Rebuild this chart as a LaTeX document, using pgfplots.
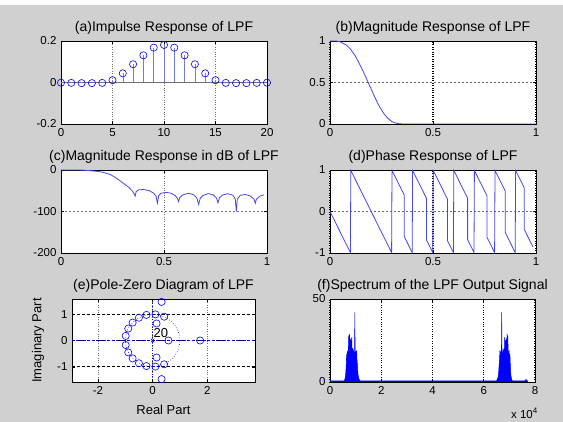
\documentclass[border=0pt]{standalone}
\usepackage{fontspec}
\setmainfont{Liberation Sans}
\usepackage{pgfplots}
\pgfplotsset{compat=1.18}
\definecolor{bg}{RGB}{208,208,208}
\definecolor{mblue}{RGB}{0,0,255}
\definecolor{lblue}{RGB}{70,70,235}
\definecolor{sblue}{RGB}{120,120,225}
\definecolor{ggray}{RGB}{110,110,110}
\tikzset{
  gdot/.style={ggray, dotted, line width=0.6pt},
  gdash/.style={ggray, line width=0.5pt, dash pattern=on 2pt off 2pt},
  kdot/.style={black, dotted, line width=1.1pt},
  kdash/.style={black, line width=0.9pt, dash pattern=on 3pt off 2pt},
}
\pgfplotsset{
  mstyle/.style={
    scale only axis,
    axis background/.style={fill=white},
    axis line style={black, line width=0.6pt},
    tick align=inside,
    major tick length=3pt,
    tick style={black, line width=0.5pt},
    ticklabel style={font=\fontsize{11.5}{13}\selectfont},
    /pgf/number format/assume math mode=true,
    title style={font=\fontsize{14}{16}\selectfont, at={(0.5,1)}, anchor=base, yshift=3pt},
    label style={font=\fontsize{13}{15}\selectfont},
    xticklabel style={yshift=-1pt},
    yticklabel style={xshift=-1pt},
    clip=true,
  },
}
\begin{document}
\begin{tikzpicture}
\useasboundingbox (0pt,0pt) rectangle (563pt,422pt);
\fill[bg] (0pt,0pt) rectangle (563pt,422pt);
\fill[white!94!bg] (0pt,417pt) rectangle (563pt,422pt);

% (a)
\begin{axis}[mstyle, at={(61pt,298pt)}, anchor=south west, width=206pt, height=83pt,
  xmin=0, xmax=20, ymin=-0.2, ymax=0.2,
  xtick={0,5,10,15,20}, ytick={-0.2,0,0.2},
  xmajorgrids, major x grid style={gdot},
  title={(a)Impulse Response of LPF}]
\addplot[ggray, line width=0.5pt] coordinates {(0,0)(20,0)};
\addplot[ycomb, sblue, line width=0.6pt, mark=o, mark size=3.6pt, mark options={mblue, solid, line width=0.6pt}] coordinates {
(0,-0.001)(1,-0.002)(2,-0.003)(3,-0.003)(4,-0.002)(5,0.011)(6,0.044)(7,0.088)(8,0.131)(9,0.168)(10,0.181)
(11,0.168)(12,0.131)(13,0.088)(14,0.044)(15,0.011)(16,-0.002)(17,-0.003)(18,-0.003)(19,-0.002)(20,-0.001)};
\end{axis}

% (b)
\begin{axis}[mstyle, at={(330pt,298pt)}, anchor=south west, width=206pt, height=83pt,
  xmin=0, xmax=1, ymin=0, ymax=1,
  xtick={0,0.5,1}, ytick={0,0.5,1},
  xmajorgrids, major x grid style={kdot},
  ymajorgrids, major y grid style={gdash},
  title={(b)Magnitude Response of LPF}]
\addplot[lblue, line width=0.8pt] coordinates {
(0,1)(0.03,1.0)(0.05,0.99)(0.08,0.95)(0.1,0.90)(0.12,0.83)(0.14,0.74)(0.16,0.64)(0.18,0.53)(0.2,0.42)
(0.22,0.31)(0.24,0.21)(0.26,0.13)(0.28,0.07)(0.30,0.03)(0.32,0.01)(0.34,0.002)(0.36,0)(1,0)};
\end{axis}

% (c)
\begin{axis}[mstyle, at={(61pt,169pt)}, anchor=south west, width=206pt, height=83pt,
  xmin=0, xmax=1, ymin=-200, ymax=0,
  xtick={0,0.5,1}, ytick={-200,-100,0},
  xmajorgrids, major x grid style={gdot},
  ymajorgrids, major y grid style={gdash},
  title={(c)Magnitude Response in dB of LPF}]
\addplot[lblue, line width=0.8pt] coordinates {
(0,0)(0.05,0)(0.1,-0.3)(0.14,-1.5)(0.17,-3)(0.2,-5)(0.24,-11)(0.27,-20)(0.3,-31)(0.33,-42)(0.345,-50)(0.355,-57)(0.36,-63)
(0.365,-52)(0.375,-48)(0.40,-47)(0.43,-50)(0.45,-56)(0.462,-64)(0.468,-80)(0.474,-62)(0.485,-56)
(0.51,-54)(0.535,-56)(0.555,-62)(0.565,-68)(0.57,-76)(0.576,-67)(0.59,-60)(0.62,-56)(0.645,-60)
(0.66,-68)(0.668,-83)(0.676,-68)(0.69,-61)(0.715,-57)(0.74,-60)(0.755,-68)(0.762,-79)(0.769,-67)
(0.785,-60)(0.81,-57)(0.835,-61)(0.846,-70)(0.851,-100)(0.856,-70)(0.87,-61)(0.895,-59)(0.92,-63)
(0.937,-70)(0.943,-80)(0.949,-70)(0.965,-63)(0.985,-60)};
\end{axis}

% (d)
\begin{axis}[mstyle, at={(330pt,169pt)}, anchor=south west, width=206pt, height=83pt,
  xmin=0, xmax=1, ymin=-1, ymax=1,
  xtick={0,0.5,1}, ytick={-1,0,1},
  xmajorgrids, major x grid style={kdot},
  ymajorgrids, major y grid style={gdash},
  title={(d)Phase Response of LPF}]
\addplot[lblue, line width=0.8pt] coordinates {
(0,0)(0.099,-0.99)(0.101,0.99)(0.299,-0.99)(0.301,0.99)(0.36,0.40)(0.36,-0.60)(0.399,-0.99)(0.401,0.99)
(0.468,0.32)(0.468,-0.68)(0.499,-0.99)(0.501,0.99)(0.57,0.30)(0.57,-0.70)(0.599,-0.99)(0.601,0.99)
(0.668,0.32)(0.668,-0.68)(0.699,-0.99)(0.701,0.99)(0.762,0.38)(0.762,-0.62)(0.799,-0.99)(0.801,0.99)
(0.851,0.49)(0.851,-0.51)(0.899,-0.99)(0.901,0.99)(0.943,0.57)(0.943,-0.43)(0.985,-0.85)};
\end{axis}

% (e)
\begin{axis}[mstyle, at={(72pt,40pt)}, anchor=south west, width=183pt, height=83pt,
  xmin=-2.95, xmax=3.75, ymin=-1.58, ymax=1.58,
  xtick={-2,0,2}, ytick={-1,0,1},
  xmajorgrids, major x grid style={gdot},
  ymajorgrids, major y grid style={kdash},
  title={(e)Pole-Zero Diagram of LPF},
  xlabel={Real Part}, ylabel={Imaginary Part},
  xlabel style={at={(axis description cs:0.5,0)}, anchor=center, yshift=-28pt},
  ylabel style={at={([xshift=-34pt]axis description cs:0,0.5)}, anchor=center}]
\addplot[mblue, line width=0.6pt, dash pattern=on 2pt off 2pt] coordinates {(-2.95,0)(3.75,0)};
\addplot[mblue, line width=0.6pt, dotted] coordinates {(0,-1.58)(0,1.58)};
\draw[mblue, dotted, line width=0.6pt] (axis cs:0,0) ellipse [x radius=1, y radius=1];
\addplot[only marks, mark=o, mark size=3.6pt, mark options={mblue, line width=0.6pt}] coordinates {
(0.423,0.906)(0.105,0.995)(-0.225,0.974)(-0.5,0.866)(-0.731,0.682)(-0.891,0.454)(-0.985,0.174)
(0.423,-0.906)(0.105,-0.995)(-0.225,-0.974)(-0.5,-0.866)(-0.731,-0.682)(-0.891,-0.454)(-0.985,-0.174)
(0.33,1.47)(0.33,-1.47)(0.146,0.648)(0.146,-0.648)(0.58,0)(1.74,0)};
\addplot[only marks, mark=x, mark size=2.5pt, mark options={mblue, line width=0.6pt}] coordinates {(0,0)};
\node[font=\fontsize{13}{15}\selectfont, anchor=center] at (axis cs:0.3,0.3) {20};
\end{axis}

% (f)
\begin{axis}[mstyle, name=axf, at={(330pt,40pt)}, anchor=south west, width=205pt, height=83pt,
  xmin=0, xmax=8, ymin=0, ymax=50,
  xtick={0,2,4,6,8}, ytick={0,50},
  xmajorgrids, major x grid style={kdot},
  title={(f)Spectrum of the LPF Output Signal}]
\addplot[mblue, fill=mblue, line width=0.5pt] coordinates {
(0,0.6)(0.55,0.6)(0.58,1.5)(0.61,4)(0.63,9)(0.65,17)(0.66,13)(0.68,18)(0.70,16)(0.72,20)(0.73,28)(0.74,19)
(0.76,29)(0.77,20)(0.79,26)(0.80,22)(0.82,25)(0.83,18)(0.85,27)(0.86,19)(0.88,20)(0.90,17)(0.92,19)(0.94,16)
(0.96,18)(0.97,42)(0.98,15)(1.0,18)(1.02,17)(1.04,19)(1.05,14)(1.07,10)(1.09,5)(1.11,3)(1.14,1.5)(1.18,0.6)
(6.49,0.6)(6.53,1.5)(6.56,3)(6.58,5)(6.60,10)(6.62,14)(6.63,19)(6.65,17)(6.67,18)(6.69,15)(6.70,42)(6.71,18)
(6.73,16)(6.75,19)(6.77,17)(6.79,20)(6.81,19)(6.82,27)(6.84,18)(6.85,25)(6.87,22)(6.88,26)(6.90,20)(6.91,29)
(6.93,19)(6.94,28)(6.95,20)(6.97,16)(6.99,18)(7.01,13)(7.02,17)(7.04,9)(7.06,4)(7.09,1.5)(7.12,0.6)
(7.6,0.6)(7.65,1.5)(7.7,0.6)(7.72,0.6)(7.72,0)(0,0)} \closedcycle;
\end{axis}
\node[font=\fontsize{11.5}{13}\selectfont, anchor=north east, inner sep=0pt] at ([xshift=3pt, yshift=-26pt]axf.south east) {x 10\textsuperscript{4}};
\end{tikzpicture}
\end{document}
